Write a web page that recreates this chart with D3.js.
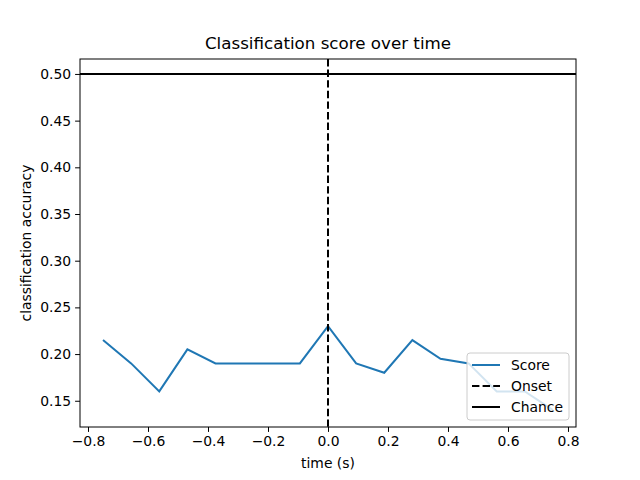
<!DOCTYPE html>
<html><head><meta charset="utf-8">
<script src="https://cdn.jsdelivr.net/npm/d3@7"></script>
<style>body{margin:0;background:#fff}text{font-family:"DejaVu Sans",sans-serif}</style>
</head><body><svg id="c" width="640" height="480"></svg>
<script>
const times = [-0.75,-0.65625,-0.5625,-0.46875,-0.375,-0.28125,-0.1875,-0.09375,0,0.09375,0.1875,0.28125,0.375,0.46875,0.5625,0.65625,0.75];
const scores = [0.215,0.19,0.16,0.205,0.19,0.19,0.19,0.19,0.23,0.19,0.18,0.215,0.195,0.19,0.16,0.16,0.14];
const xTicks = [-0.8,-0.6,-0.4,-0.2,0,0.2,0.4,0.6,0.8];
const yTicks = [0.15,0.2,0.25,0.3,0.35,0.4,0.45,0.5];
const chance = 0.5, onset = 0;

const L=80,R=576,T=59,B=427;
const svg = d3.select('#c');
const x = d3.scaleLinear().domain([-0.8267,0.8267]).range([L,R]);
const y = d3.scaleLinear().domain([0.1219,0.516]).range([B,T]);

svg.append('g').attr('transform',`translate(0,${B})`)
  .call(d3.axisBottom(x).tickValues(xTicks).tickSizeOuter(0).tickSize(4.9).tickPadding(4).tickFormat(d3.format('.1f')))
  .call(g=>g.selectAll('text').attr('font-size',13.9).attr('fill','#000'));
svg.append('g').attr('transform',`translate(${L},0)`)
  .call(d3.axisLeft(y).tickValues(yTicks).tickSizeOuter(0).tickSize(4.9).tickPadding(4).tickFormat(d3.format('.2f')))
  .call(g=>g.selectAll('text').attr('font-size',13.9).attr('fill','#000'));
svg.selectAll('.domain').remove();
svg.append('rect').attr('x',L).attr('y',T).attr('width',R-L).attr('height',B-T).attr('fill','none').attr('stroke','#000').attr('stroke-width',1);

svg.append('path').datum(times.map((t,i)=>[t,scores[i]]))
  .attr('d',d3.line().x(d=>x(d[0])).y(d=>y(d[1])))
  .attr('fill','none').attr('stroke','#1f77b4').attr('stroke-width',2);
svg.append('line').attr('x1',x(onset)).attr('x2',x(onset)).attr('y1',T).attr('y2',B)
  .attr('stroke','#000').attr('stroke-width',2).attr('stroke-dasharray','7.4,3.2');
svg.append('line').attr('x1',L).attr('x2',R).attr('y1',y(chance)).attr('y2',y(chance))
  .attr('stroke','#000').attr('stroke-width',2);

svg.append('text').attr('x',(L+R)/2).attr('y',49).attr('text-anchor','middle').attr('font-size',16.7).text('Classification score over time');
svg.append('text').attr('x',(L+R)/2).attr('y',468).attr('text-anchor','middle').attr('font-size',13.9).text('time (s)');
svg.append('text').attr('transform',`translate(31,${(T+B)/2}) rotate(-90)`).attr('text-anchor','middle').attr('font-size',13.9).text('classification accuracy');

const lg = svg.append('g').attr('transform','translate(467,353)');
lg.append('rect').attr('width',102).attr('height',67).attr('rx',3).attr('fill','#fff').attr('fill-opacity',0.8).attr('stroke','#ccc');
const items=[['Score','#1f77b4',null],['Onset','#000','7.4,3.2'],['Chance','#000',null]];
items.forEach((it,i)=>{
  const yy=12+i*21;
  lg.append('line').attr('x1',5).attr('x2',33).attr('y1',yy).attr('y2',yy).attr('stroke',it[1]).attr('stroke-width',2).attr('stroke-dasharray',it[2]);
  lg.append('text').attr('x',44).attr('y',yy+5).attr('font-size',13.9).text(it[0]);
});
</script></body></html>
